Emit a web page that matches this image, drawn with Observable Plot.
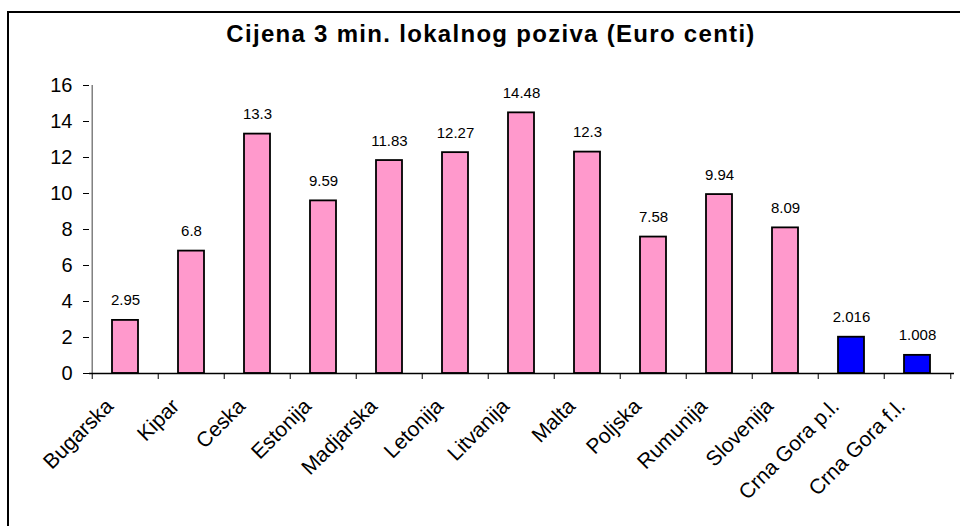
<!DOCTYPE html>
<html>
<head>
<meta charset="utf-8">
<script src="https://cdn.jsdelivr.net/npm/d3@7"></script>
<script src="https://cdn.jsdelivr.net/npm/@observablehq/plot@0.6"></script>
<style>
  html, body { margin: 0; padding: 0; background: #fff; overflow: hidden; }
  #wrap { position: relative; width: 960px; height: 526px; font-family: "Liberation Sans", Arial, sans-serif; }
  #border { position: absolute; left: 7px; top: 11px; width: 1000px; height: 600px; border-top: 2px solid #000; border-left: 2px solid #000; pointer-events: none; }
  #title { height: 60px; box-sizing: border-box; padding-top: 22px; padding-left: 22px; text-align: center; font-size: 24px; line-height: 24px; font-weight: bold; letter-spacing: 1.3px; color: #000; }
</style>
</head>
<body>
<div id="wrap">
  <div id="border"></div>
  <div id="title">Cijena 3 min. lokalnog poziva (Euro centi)</div>
  <div id="chart"></div>
</div>
<script>
const categories = ["Bugarska", "Kipar", "Ceska", "Estonija", "Madjarska", "Letonija", "Litvanija", "Malta", "Poljska", "Rumunija", "Slovenija", "Crna Gora p.l.", "Crna Gora f.l."];
const values = [2.95, 6.8, 13.3, 9.59, 11.83, 12.27, 14.48, 12.3, 7.58, 9.94, 8.09, 2.016, 1.008];
const groups = ["EU", "EU", "EU", "EU", "EU", "EU", "EU", "EU", "EU", "EU", "EU", "CG", "CG"];
const yTicks = [0, 2, 4, 6, 8, 10, 12, 14, 16];

const data = categories.map((name, i) => ({name, value: values[i], group: groups[i]}));

const W = 960, H = 466, mL = 89, mR = 6, mT = 25, mB = 153;
const step = (W - mL - mR) / categories.length;

const chart = Plot.plot({
  width: W,
  height: H,
  marginLeft: mL,
  marginRight: mR,
  marginTop: mT,
  marginBottom: mB,
  style: {fontFamily: "'Liberation Sans', Arial, sans-serif", fontSize: "20px", color: "#000", background: "#fff", overflow: "visible"},
  x: {domain: categories, paddingInner: 0.6, paddingOuter: 0.3, axis: null},
  y: {domain: [0, 16], axis: null},
  color: {domain: ["EU", "CG"], range: ["#FF99CC", "#0000FF"]},
  marks: [
    Plot.axisY({ticks: yTicks, tickSize: 6, tickPadding: 11, fontSize: 20, label: null, stroke: "#000"}),
    Plot.ruleX([categories[0]], {x: d => d, y1: 0, y2: 16, dx: -step / 2, stroke: "#808080", strokeWidth: 1.5}),
    Plot.barY(data, {x: "name", y: "value", fill: "group", stroke: "#000", strokeWidth: 1.8}),
    Plot.ruleY([0], {stroke: "#000", strokeWidth: 1.5}),
    Plot.ruleX(categories, {x: d => d, y1: 0, y2: 0, insetTop: 6, dx: -step / 2, stroke: "#000", strokeWidth: 1}),
    Plot.ruleX([categories[categories.length - 1]], {x: d => d, y1: 0, y2: 0, insetTop: 6, dx: step / 2, stroke: "#000", strokeWidth: 1}),
    Plot.text(data, {x: "name", y: "value", text: d => String(d.value), lineAnchor: "bottom", dy: -15, fontSize: 15, fill: "#000"}),
    Plot.text(data, {x: "name", y: 0, text: "name", rotate: -45, textAnchor: "end", lineAnchor: "bottom", dx: -11, dy: 34, fontSize: 21, fill: "#000"})
  ]
});
document.getElementById("chart").appendChild(chart);
</script>
</body>
</html>
